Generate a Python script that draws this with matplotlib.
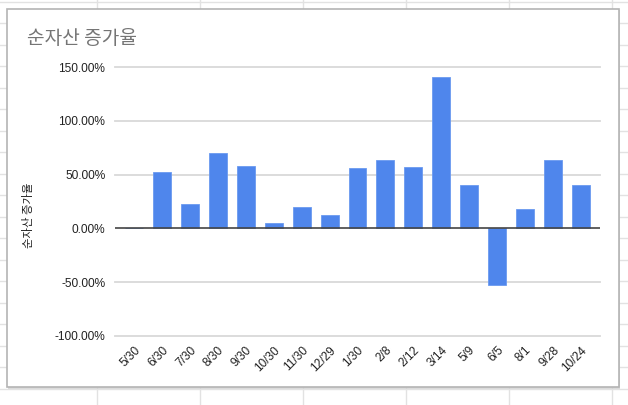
import matplotlib
matplotlib.use("Agg")
import matplotlib.pyplot as plt
from matplotlib.patches import Rectangle
import numpy as np

categories = ["5/30", "6/30", "7/30", "8/30", "9/30", "10/30", "11/30", "12/29",
              "1/30", "2/8", "2/12", "3/14", "5/9", "6/5", "8/1", "9/28", "10/24"]
values = [0, 52, 23, 70, 58, 5, 20, 12, 56, 64, 57, 141, 40, -53, 18, 64, 40]
yticks = [-100, -50, 0, 50, 100, 150]
title = "순자산 증가율"
ylabel = "순자산 증가율"

plt.rcParams['font.family'] = ['Liberation Sans', 'Noto Sans CJK KR', 'DejaVu Sans']
KR = ['Noto Sans CJK KR', 'DejaVu Sans']

W, H = 628, 405
fig = plt.figure(figsize=(W / 100, H / 100), dpi=100)
fig.patch.set_facecolor("white")

# spreadsheet background grid
bg = fig.add_axes([0, 0, 1, 1], zorder=0)
bg.set_xlim(0, W)
bg.set_ylim(H, 0)
bg.axis("off")
for xv in np.arange(97, W, 103):
    bg.plot([xv, xv], [0, H], color="#e2e2e2", lw=1, zorder=1)
for yv in np.arange(1.5, H, 21.5):
    bg.plot([0, W], [yv, yv], color="#e2e2e2", lw=1, zorder=1)
# chart card
bg.add_patch(Rectangle((8, 10), 612, 379, facecolor="#cfcfcf", edgecolor="none",
                       alpha=0.7, zorder=5))
bg.add_patch(Rectangle((7, 9), 612, 378, facecolor="white", edgecolor="#b4b4b4",
                       lw=1.2, zorder=6))
bg.text(27, 38, title, fontsize=13.8, color="#757575", va="center", ha="left",
        family=KR, zorder=7)

ax = fig.add_axes([115 / W, 1 - 336 / H, (600 - 115) / W, (336 - 67) / H], zorder=2)
ax.set_facecolor("none")
x = np.arange(len(categories))
ax.bar(x, values, width=0.64, color="#4f86ec", edgecolor="#6b9af0", linewidth=0.6, zorder=3)
ax.set_xlim(-0.68, len(categories) - 1 + 0.68)
ax.set_ylim(-100, 150)
ax.set_yticks(yticks)
ax.set_yticklabels([f"{v:.2f}%" for v in yticks], fontsize=8.6, color="#222222")
for v in yticks:
    if v == 0:
        continue
    ax.axhline(v, color="#d9d9d9", lw=1.3, zorder=1, clip_on=False)
ax.axhline(0, color="#444444", lw=1.2, zorder=4)
ax.set_xticks(x)
ax.set_xticklabels(categories, rotation=45, ha="right", rotation_mode="anchor",
                   fontsize=8.6, color="#222222")
ax.tick_params(axis="both", length=0)
ax.tick_params(axis="y", pad=7)
ax.tick_params(axis="x", pad=6)
for s in ax.spines.values():
    s.set_visible(False)
ax.set_ylabel(ylabel, fontsize=8.2, color="#222222", family=KR)
ax.yaxis.set_label_coords(-0.166, 0.45)

fig.savefig("out.png", dpi=100)
